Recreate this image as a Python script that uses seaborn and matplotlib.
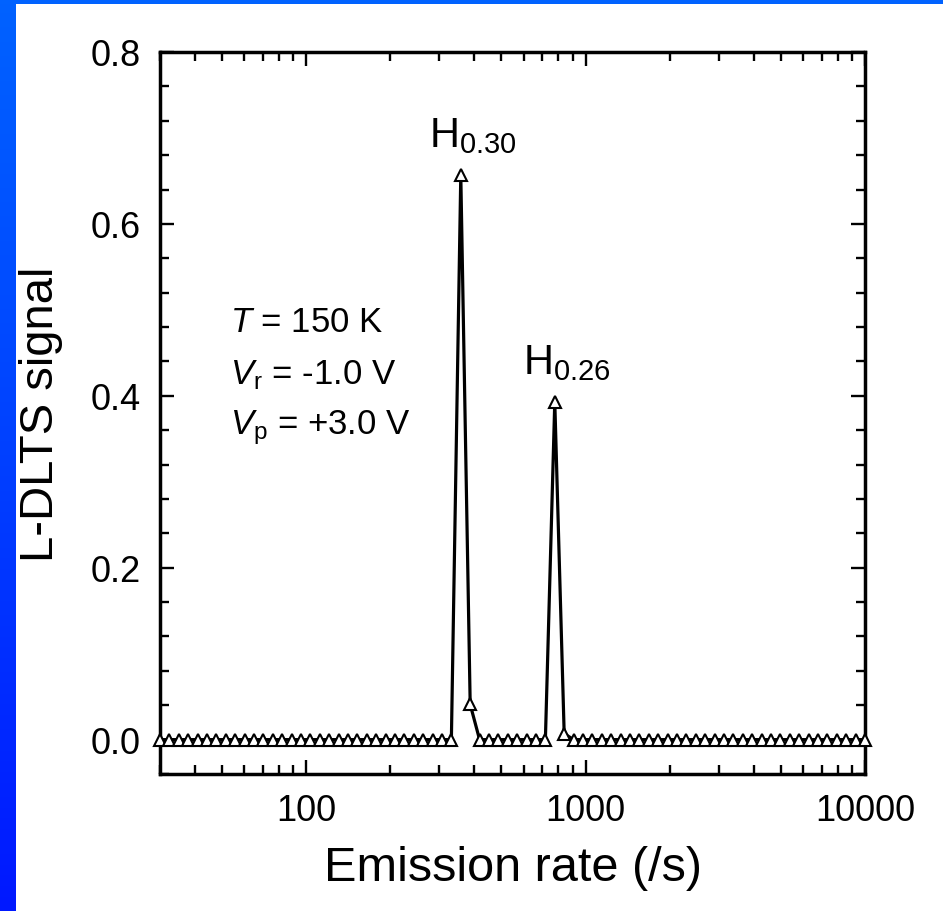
import numpy as np
import pandas as pd
import matplotlib
matplotlib.use("Agg")
import matplotlib.pyplot as plt
from matplotlib.ticker import LogLocator, FixedLocator, MultipleLocator, NullFormatter
from matplotlib.colors import LinearSegmentedColormap
import seaborn as sns

# Emission-rate grid of the Laplace DLTS spectrum (1/s)
rate = [30.0, 32.4, 35.0, 37.8, 40.9, 44.2, 47.7, 51.6, 55.7, 60.2,
        65.1, 70.3, 76.0, 82.1, 88.7, 95.9, 103.6, 111.9, 120.9, 130.7,
        141.2, 152.6, 164.9, 178.2, 192.5, 208.0, 224.7, 242.9, 262.4, 283.5,
        306.4, 331.0, 357.7, 386.5, 417.6, 451.3, 487.6, 526.9, 569.3, 615.1,
        664.7, 718.2, 776.0, 838.5, 906.0, 979.0, 1058, 1143, 1235, 1335,
        1442, 1558, 1684, 1819, 1966, 2125, 2296, 2480, 2680, 2896,
        3129, 3381, 3653, 3948, 4266, 4609, 4980, 5381, 5815, 6283,
        6789, 7335, 7926, 8565, 9254, 10000]

# L-DLTS amplitude at each rate: two sharp lines, H0.30 and H0.26
signal = [0.0] * len(rate)
signal[32] = 0.657
signal[33] = 0.041
signal[42] = 0.393
signal[43] = 0.007

peak_labels = [r"H$_{0.30}$", r"H$_{0.26}$"]
peak_rates = [357.7, 776.0]
peak_heights = [0.657, 0.393]

conditions = [r"$T$ = 150 K", r"$V_\mathrm{r}$ = -1.0 V", r"$V_\mathrm{p}$ = +3.0 V"]

x_ticks = [100, 1000, 10000]
x_ticklabels = ["100", "1000", "10000"]
y_ticks = [0.0, 0.2, 0.4, 0.6, 0.8]
y_ticklabels = ["0.0", "0.2", "0.4", "0.6", "0.8"]

df = pd.DataFrame({"rate": rate, "signal": signal})

sns.set_theme(style="ticks")
plt.rcParams["font.family"] = ["Liberation Sans", "DejaVu Sans"]
plt.rcParams["mathtext.fontset"] = "custom"
plt.rcParams["mathtext.rm"] = "Liberation Sans"
plt.rcParams["mathtext.it"] = "Liberation Sans:italic"
plt.rcParams["mathtext.bf"] = "Liberation Sans:bold"
for key in ["text.color", "axes.labelcolor", "xtick.color", "ytick.color", "axes.edgecolor"]:
    plt.rcParams[key] = "black"

W, H = 943, 912
fig = plt.figure(figsize=(W / 100, H / 100), dpi=100, facecolor="white")

# Slide-style blue border on the left and top edges
band = fig.add_axes([0, 0, 16 / W, 1])
grad = np.linspace(0, 1, 256).reshape(-1, 1)
cmap = LinearSegmentedColormap.from_list("slide", ["#0062ff", "#0040ff", "#0018ff"])
band.imshow(grad, aspect="auto", cmap=cmap, extent=[0, 1, 0, 1], origin="upper")
band.set_axis_off()
top = fig.add_axes([0, 1 - 5 / H, 1, 5 / H])
top.set_facecolor("#0062ff")
top.set_xticks([]); top.set_yticks([])
for s in top.spines.values():
    s.set_visible(False)

ax = fig.add_axes([160 / W, 1 - 775 / H, (865 - 160) / W, (775 - 53) / H])
ax.set_facecolor("white")

sns.lineplot(data=df, x="rate", y="signal", ax=ax, color="black", linewidth=2.3,
             marker="^", markersize=8, markerfacecolor="white",
             markeredgecolor="black", markeredgewidth=1.5, clip_on=False,
             zorder=3)

ax.set_xscale("log")
ax.set_xlim(30, 10000)
ax.set_ylim(-0.04, 0.8)

ax.xaxis.set_major_locator(FixedLocator(x_ticks))
ax.set_xticklabels(x_ticklabels)
ax.xaxis.set_minor_locator(LogLocator(base=10, subs=np.arange(2, 10)))
ax.xaxis.set_minor_formatter(NullFormatter())
ax.set_yticks(y_ticks)
ax.set_yticklabels(y_ticklabels)
ax.yaxis.set_minor_locator(MultipleLocator(0.04))

ax.tick_params(which="both", direction="in", top=True, right=True,
               width=1.7, colors="black", labelsize=26)
ax.tick_params(which="major", length=10, pad=14)
ax.tick_params(which="minor", length=6.5)
for s in ax.spines.values():
    s.set_linewidth(2.5)
    s.set_color("black")
    s.set_visible(True)

ax.set_xlabel("Emission rate (/s)", fontsize=35, labelpad=12)
ax.set_ylabel("L-DLTS signal", fontsize=34, labelpad=20)

for lab, r, h in zip(peak_labels, peak_rates, peak_heights):
    ax.annotate(lab, (r, h), xytext=(9, 14), textcoords="offset points",
                ha="center", va="bottom", fontsize=30)

for i, t in enumerate(conditions):
    ax.text(0.1, 0.627 - i * 0.0727, t, transform=ax.transAxes,
            fontsize=25, ha="left", va="center")

fig.savefig("out.png", dpi=100, facecolor="white")
